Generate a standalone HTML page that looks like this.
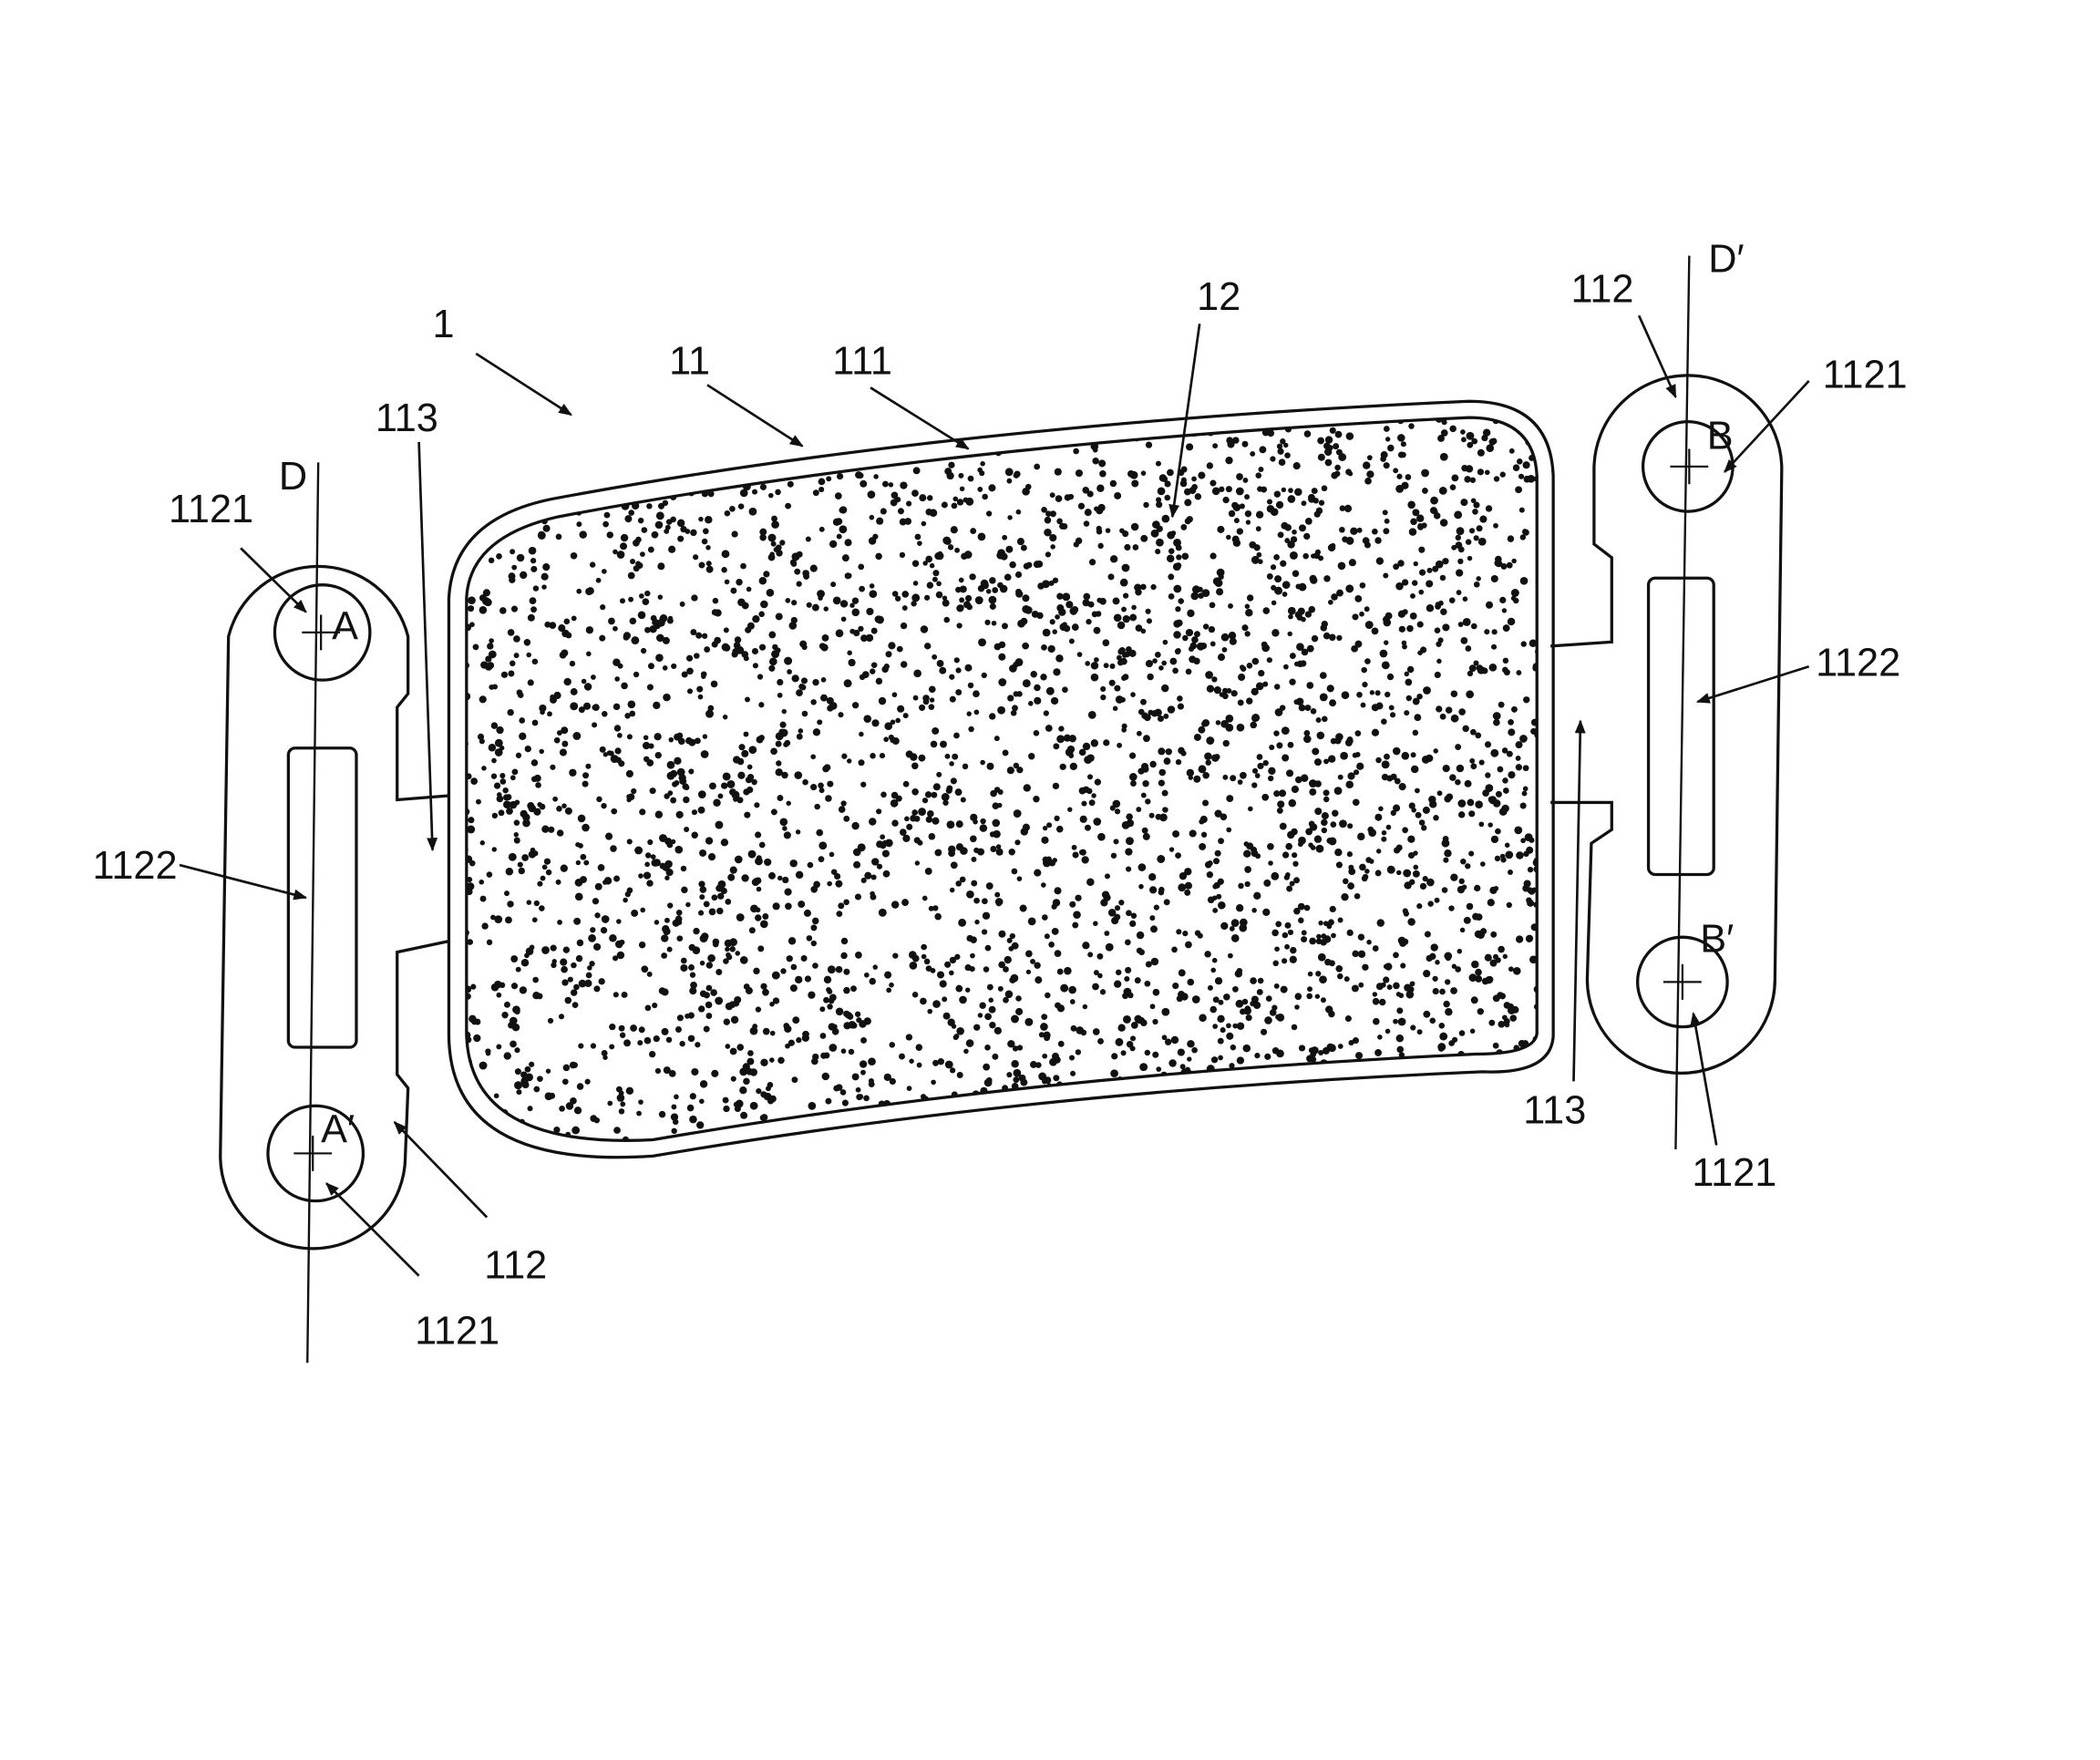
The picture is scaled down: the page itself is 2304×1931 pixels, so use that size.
<!DOCTYPE html>
<html><head><meta charset="utf-8"><style>
html,body{margin:0;padding:0;background:#fff;}
svg{display:block}
text{font-family:"Liberation Sans",sans-serif;font-size:29px;fill:#111;}
</style></head><body>
<svg id="s" width="2304" height="1931" viewBox="0 0 1544 1294" xmlns="http://www.w3.org/2000/svg">
<defs>
<marker id="a" markerWidth="10" markerHeight="10" refX="9" refY="5" orient="auto" markerUnits="userSpaceOnUse">
<path d="M0,1 L10,5 L0,9 Z" fill="#111"/></marker>
<clipPath id="c"><path d="M410,380 Q700,325 1080,307 Q1128,307 1130,350 L1130,760 Q1128,775 1085,775 Q760,790 480,838 Q345,845 343,760 L343,440 Q345,395 410,380 Z"/></clipPath>
</defs>
<g fill="none" stroke="#111" stroke-width="2.2">
<path d="M405,367 Q700,312 1080,295 Q1140,295 1142,350 L1142,762 Q1140,790 1090,788 Q760,802 480,850 Q330,860 330,760 L330,440 Q333,382 405,367 Z"/>
<path d="M410,380 Q700,325 1080,307 Q1128,307 1130,350 L1130,760 Q1128,775 1085,775 Q760,790 480,838 Q345,845 343,760 L343,440 Q345,395 410,380 Z"/>
<path d="M330,585 L292,588 L292,520 L300,510 L300,468 A68,68 0 0 0 168,468 L162,850 A68,68 0 0 0 298,850 L300,800 L292,790 L292,700 L330,692"/>
<circle cx="237" cy="465" r="35"/><circle cx="232" cy="848" r="35"/>
<rect x="212" y="550" width="50" height="220" rx="5"/>
<path d="M1140,475 L1185,472 L1185,410 L1172,400 L1172,345 A69,69 0 0 1 1310,345 L1305,720 A69,69 0 0 1 1167,720 L1170,620 L1185,610 L1185,590 L1140,590"/>
<circle cx="1241" cy="343" r="33"/><circle cx="1237" cy="722" r="33"/>
<rect x="1212" y="425" width="48" height="218" rx="5"/>
<line x1="234" y1="340" x2="226" y2="1002" stroke-width="1.6"/>
<line x1="1242" y1="188" x2="1232" y2="845" stroke-width="1.6"/>
<path d="M222,465 h28 M236,452 v26 M216,848 h28 M230,835 v26 M1228,343 h28 M1242,330 v26 M1223,722 h28 M1237,709 v26" stroke-width="1.5"/>
<g stroke-width="1.8">
<line x1="350" y1="260" x2="420" y2="305" marker-end="url(#a)"/>
<line x1="520" y1="283" x2="590" y2="328" marker-end="url(#a)"/>
<line x1="640" y1="285" x2="712" y2="330" marker-end="url(#a)"/>
<line x1="882" y1="238" x2="862" y2="380" marker-end="url(#a)"/>
<line x1="308" y1="325" x2="318" y2="625" marker-end="url(#a)"/>
<line x1="177" y1="403" x2="225" y2="450" marker-end="url(#a)"/>
<line x1="132" y1="636" x2="225" y2="660" marker-end="url(#a)"/>
<line x1="308" y1="938" x2="240" y2="870" marker-end="url(#a)"/>
<line x1="358" y1="895" x2="290" y2="825" marker-end="url(#a)"/>
<line x1="1205" y1="232" x2="1232" y2="292" marker-end="url(#a)"/>
<line x1="1330" y1="280" x2="1268" y2="347" marker-end="url(#a)"/>
<line x1="1330" y1="490" x2="1248" y2="516" marker-end="url(#a)"/>
<line x1="1157" y1="795" x2="1162" y2="530" marker-end="url(#a)"/>
<line x1="1262" y1="842" x2="1245" y2="745" marker-end="url(#a)"/>
</g>
</g>
<g id="dots" clip-path="url(#c)" fill="#111"></g>
<text x="318" y="248">1</text>
<text x="492" y="275">11</text>
<text x="612" y="275">111</text>
<text x="880" y="228">12</text>
<text x="276" y="317">113</text>
<text x="205" y="360">D</text>
<text x="124" y="384">1121</text>
<text x="68" y="646">1122</text>
<text x="356" y="940">112</text>
<text x="305" y="988">1121</text>
<text x="1155" y="222">112</text>
<text x="1256" y="200">D′</text>
<text x="1340" y="285">1121</text>
<text x="1335" y="497">1122</text>
<text x="1120" y="826">113</text>
<text x="1244" y="872">1121</text>
<text x="244" y="470" font-size="25">A</text>
<text x="236" y="840" font-size="25">A′</text>
<text x="1255" y="330" font-size="25">B</text>
<text x="1250" y="700" font-size="25">B′</text>
</svg>
<script>
var g=document.getElementById('dots'),s=1234567,h='';
function r(){s=(s*16807)%2147483647;return s/2147483647;}
for(var i=0;i<3600;i++){var x=340+r()*795,y=300+r()*545;h+='<circle cx="'+x.toFixed(1)+'" cy="'+y.toFixed(1)+'" r="'+(1.8+r()*1.2).toFixed(2)+'"/>';}
g.innerHTML=h;
</script>
</body></html>
